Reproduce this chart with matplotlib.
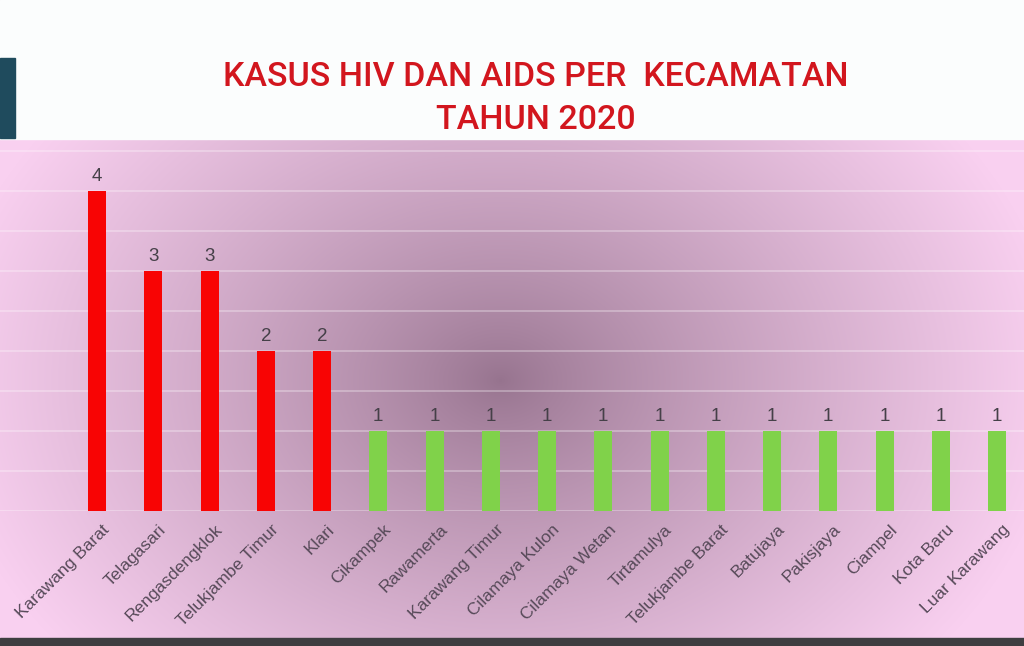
import numpy as np
import matplotlib
matplotlib.use("Agg")
import matplotlib.pyplot as plt
from matplotlib.patches import Rectangle
from matplotlib.transforms import ScaledTranslation

# data
kecamatan = [
    "Karawang Barat", "Telagasari", "Rengasdengklok", "Telukjambe Timur", "Klari",
    "Cikampek", "Rawamerta", "Karawang Timur", "Cilamaya Kulon", "Cilamaya Wetan",
    "Tirtamulya", "Telukjambe Barat", "Batujaya", "Pakisjaya", "Ciampel",
    "Kota Baru", "Luar Karawang",
]
kasus = [4, 3, 3, 2, 2, 1, 1, 1, 1, 1, 1, 1, 1, 1, 1, 1, 1]
judul_1 = "KASUS HIV DAN AIDS PER  KECAMATAN"
judul_2 = "TAHUN 2020"

W, H = 1024, 646
fig = plt.figure(figsize=(W / 100, H / 100), dpi=100)

# background: pink panel with dark radial shading
bg = fig.add_axes([0, 0, 1, 1])
bg.set_xlim(0, W)
bg.set_ylim(H, 0)
bg.axis("off")
yy, xx = np.mgrid[0:H, 0:W]
t = np.sqrt(((xx - 500) / 560.0) ** 2 + ((yy - 380) / 430.0) ** 2)
t = np.clip(t, 0, 1) ** 0.8
c_mid = np.array([150, 115, 142]) / 255
c_edge = np.array([249, 208, 240]) / 255
img = c_mid[None, None, :] * (1 - t[..., None]) + c_edge[None, None, :] * t[..., None]
bg.imshow(img, extent=(0, W, H, 0), aspect="auto", zorder=0)
bg.add_patch(Rectangle((0, 0), W, 139, color="#fbfdfd", zorder=1))
bg.add_patch(Rectangle((0, 58), 15, 80, color="#1f4b5d", zorder=2))
bg.add_patch(Rectangle((0, 638), W, 8, color="#3e3e40", zorder=2))

title_kw = dict(ha="center", va="center", color="#d2161e", fontsize=24.5,
                fontweight="medium", family=["Roboto", "Liberation Sans", "DejaVu Sans"])
fig.text(536 / W, 1 - 77 / H, judul_1, **title_kw)
fig.text(536 / W, 1 - 120 / H, judul_2, **title_kw)

# main chart
ax = fig.add_axes([0, (H - 511) / H, 1, (511 - 140) / H])
ax.patch.set_alpha(0)
x = np.arange(len(kecamatan))
warna = ["#f80404" if v >= 2 else "#80d24a" for v in kasus]
ax.bar(x, kasus, width=0.32, color=warna, zorder=3)
ax.set_xlim((0 - 97) / 56.25, (W - 97) / 56.25)
ax.set_ylim(0, 371 / 80)
ax.set_yticks(np.arange(0, 4.6, 0.5))
ax.grid(axis="y", color="white", alpha=0.35, linewidth=1.2, zorder=1)
ax.tick_params(length=0, labelleft=False)
for s in ax.spines.values():
    s.set_visible(False)

for xi, v in zip(x, kasus):
    ax.annotate(str(v), (xi, v), xytext=(0, 4.5), textcoords="offset points",
                ha="center", va="bottom", fontsize=13.5, color="#454048",
                family="Liberation Sans")

ax.set_xticks(x)
ax.set_xticklabels(kecamatan, rotation=45, ha="right", rotation_mode="anchor",
                   fontsize=12.5, color="#574a59", family="Liberation Sans")
off = ScaledTranslation(5 / 100, -6 / 100, fig.dpi_scale_trans)
for lbl in ax.get_xticklabels():
    lbl.set_transform(lbl.get_transform() + off)

fig.savefig("out.png", dpi=100)
